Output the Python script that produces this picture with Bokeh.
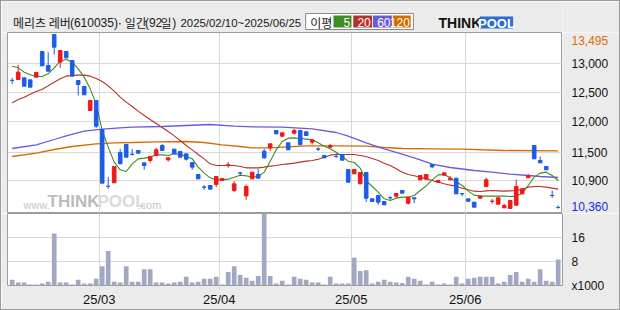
import pandas as pd
from bokeh.plotting import figure
from bokeh.layouts import column, row
from bokeh.models import ColumnDataSource, Range1d, FixedTicker, Grid, Label, Div
from bokeh.core.properties import value
from bokeh.embed import file_html
from bokeh.resources import INLINE

# ---------------- data ----------------
title_parts = ["메리츠 레버", "(610035)", "·", "일간", "(92", "일", ")", "2025/02/10~2025/06/25"]
kr_holidays = ["2025-03-03", "2025-05-01", "2025-05-05", "2025-05-06", "2025-06-03", "2025-06-06"]
dates = pd.bdate_range("2025-02-10", "2025-06-25", freq="C", holidays=kr_holidays)

opens = [12670, 12685, 12715, 12679, 12727, 13189, 12937, 13495, 12997, 13189,
         13027, 12667, 12559, 12127, 12307, 11785, 10765, 10825, 11371, 11515,
         11340, 11407, 11185, 11227, 11317, 11497, 11239, 11431, 11389, 11347,
         11191, 10975, 10750, 10777, 10795, 10867, 11147, 10687, 11004, 10591,
         10897, 10975, 11395, 11455, 11767, 11665, 11545, 11719, 11767, 11743,
         11557, 11434, 11317, 11467, 11302, 11335, 11065, 10987, 10807, 11011,
         10537, 10597, 10489, 10558, 10585, 10687, 10459, 10555, 10879, 10891,
         11155, 10837, 10963, 10879, 10909, 10630, 10537, 10477, 10549, 10759,
         10493, 10441, 10375, 10365, 10423, 10627, 10915, 11497, 11227, 11119,
         10600, 10383]
highs = [12715, 12949, 12715, 12679, 12811, 13189, 13177, 13495, 13207, 13189,
         13027, 12667, 12559, 12307, 12307, 11785, 10927, 11119, 11437, 11515,
         11437, 11407, 11185, 11299, 11455, 11527, 11275, 11431, 11389, 11347,
         11191, 10975, 10783, 10777, 10939, 10903, 11197, 10855, 11023, 10795,
         11017, 11077, 11437, 11527, 11767, 11725, 11545, 11797, 11767, 11743,
         11599, 11467, 11317, 11527, 11359, 11335, 11065, 11065, 11011, 11011,
         10537, 10597, 10489, 10585, 10633, 10687, 10567, 10555, 10957, 10975,
         11155, 10867, 11005, 10945, 10909, 10639, 10537, 10477, 10597, 10921,
         10537, 10555, 10453, 10507, 10885, 10717, 10987, 11497, 11299, 11119,
         10687, 10420]
lows = [12607, 12685, 12565, 12547, 12727, 12931, 12835, 13135, 12895, 13075,
        12745, 12397, 12409, 12127, 11815, 10819, 10717, 10825, 11167, 11287,
        11317, 11359, 11059, 11185, 11317, 11407, 11209, 11347, 11287, 11227,
        11059, 10897, 10699, 10711, 10747, 10867, 11095, 10657, 10945, 10519,
        10897, 10909, 11257, 11395, 11707, 11647, 11419, 11695, 11509, 11677,
        11515, 11395, 11275, 11455, 11275, 11233, 10819, 10987, 10807, 10477,
        10489, 10429, 10429, 10519, 10555, 10639, 10435, 10459, 10879, 10891,
        11089, 10837, 10963, 10879, 10627, 10585, 10477, 10387, 10537, 10747,
        10447, 10441, 10375, 10360, 10423, 10627, 10915, 11257, 11185, 11059,
        10555, 10360]
closes = [12665, 12817, 12565, 12547, 12811, 12931, 12835, 13267, 13207, 13075,
          12745, 12595, 12409, 12307, 11845, 10819, 10759, 11119, 11167, 11287,
          11335, 11359, 11137, 11299, 11419, 11407, 11275, 11347, 11287, 11251,
          11107, 10897, 10747, 10711, 10939, 10903, 11149, 10807, 11001, 10759,
          11017, 10909, 11275, 11527, 11707, 11725, 11419, 11767, 11509, 11677,
          11599, 11431, 11275, 11497, 11299, 11233, 10837, 11065, 11011, 10549,
          10489, 10477, 10429, 10555, 10633, 10639, 10567, 10537, 10957, 10975,
          11113, 10867, 11005, 10909, 10627, 10627, 10495, 10387, 10585, 10879,
          10495, 10555, 10417, 10507, 10759, 10717, 10951, 11257, 11185, 11059,
          10597, 10380]
volumes = [1900, 960, 960, 320, 320, 640, 1280, 17300, 960, 960,
           320, 1900, 640, 640, 2240, 6400, 11500, 1280, 960, 6400,
           1280, 1280, 5440, 5440, 960, 960, 640, 960, 1280, 2880,
           960, 1280, 2240, 2240, 2880, 320, 4480, 6400, 3520, 2560,
           1600, 3200, 25600, 3200, 640, 1600, 320, 2880, 2240, 1920,
           960, 960, 320, 2880, 640, 640, 640, 9280, 4800, 5120,
           640, 1280, 1920, 1280, 960, 800, 2880, 2240, 1600, 320,
           1280, 320, 640, 320, 2880, 640, 2240, 2560, 2880, 2880,
           2880, 640, 1280, 3520, 4480, 1280, 2240, 1280, 5440, 1600,
           1280, 8640]
ma5 = [12925, 12895, 12817, 12769, 12739, 12739, 12787, 12895, 13015, 13051,
       12997, 12877, 12727, 12517, 12247, 11767, 11467, 11197, 11059, 11029,
       11167, 11257, 11269, 11287, 11329, 11329, 11317, 11347, 11341, 11299,
       11257, 11107, 10999, 10915, 10879, 10879, 10891, 10927, 10963, 10951,
       10927, 10939, 11017, 11215, 11419, 11569, 11629, 11635, 11623, 11611,
       11599, 11545, 11485, 11437, 11377, 11299, 11215, 11191, 11089, 10867,
       10759, 10657, 10537, 10507, 10549, 10567, 10567, 10597, 10687, 10771,
       10879, 10969, 10975, 10915, 10843, 10777, 10675, 10603, 10585, 10585,
       10585, 10585, 10585, 10579, 10585, 10639, 10777, 10927, 10999, 11017,
       10957, 10867]
ma20 = [12265, 12325, 12367, 12421, 12469, 12511, 12571, 12637, 12697, 12745,
        12757, 12763, 12763, 12745, 12703, 12649, 12571, 12475, 12367, 12277,
        12199, 12115, 12037, 11965, 11893, 11821, 11749, 11671, 11587, 11497,
        11419, 11335, 11257, 11167, 11137, 11137, 11137, 11137, 11119, 11095,
        11095, 11095, 11107, 11125, 11137, 11155, 11167, 11179, 11197, 11215,
        11227, 11251, 11287, 11323, 11335, 11335, 11335, 11335, 11317, 11299,
        11263, 11227, 11179, 11137, 11077, 11017, 10975, 10951, 10927, 10897,
        10867, 10837, 10807, 10783, 10765, 10729, 10699, 10675, 10669, 10681,
        10687, 10681, 10675, 10681, 10687, 10711, 10747, 10759, 10759, 10747,
        10729, 10711]
ma60_idx = [0, 4, 7, 9, 12, 15, 18, 20, 25, 29, 33, 37, 40, 45, 50, 54, 56, 59,
            62, 65, 68, 70, 73, 77, 80, 83, 86, 88, 91]
ma60_val = [11443, 11509, 11605, 11671, 11755, 11791, 11815, 11827, 11839, 11857,
            11875, 11845, 11833, 11827, 11797, 11731, 11665, 11545, 11437, 11341,
            11239, 11161, 11101, 11047, 11017, 10981, 10957, 10939, 10921]
ma120_idx = [0, 4, 7, 10, 14, 17, 20, 24, 29, 32, 35, 38, 40, 43, 46, 49, 54, 59,
             62, 65, 70, 75, 82, 91]
ma120_val = [11299, 11359, 11425, 11479, 11527, 11545, 11551, 11563, 11569, 11551,
             11509, 11479, 11455, 11455, 11473, 11491, 11491, 11485, 11461, 11443,
             11437, 11431, 11407, 11401]

price_tick_values = [12967, 12445, 11929, 11377, 10861]
price_tick_labels = ["13,000", "12,500", "12,000", "11,500", "10,900"]
vol_tick_values = [0, 8000, 16000]
vol_tick_labels = ["x1000", "8", "16"]
max_label, min_label = "13,495", "10,360"
max_price, min_price = 13495, 10360
ma_names = ["5", "20", "60", "120"]

# ---------------- styles ----------------
RED, BLUE = "#ee1a1a", "#1d5de3"
C5, C20, C60, C120 = "#3d8d1f", "#b83028", "#6a5ae0", "#d86a00"
BG = "#ebebeb"
GRID = "#d8d8d8"
FRAME = "#9c9c9c"
EDGE = "#9a9a9a"
LAT = value("Liberation Sans")
CJK = value("Noto Sans CJK KR")

n = len(closes)
xs = list(range(n))
colors = [RED if c >= o else BLUE for o, c in zip(opens, closes)]
src = ColumnDataSource(dict(
    x=xs, high=highs, low=lows,
    top=[max(o, c) for o, c in zip(opens, closes)],
    bot=[min(o, c) for o, c in zip(opens, closes)],
    color=colors, vol=volumes, ma5=ma5, ma20=ma20))

month_ticks, month_labels = [], []
for i in range(1, len(dates)):
    if dates[i].month != dates[i - 1].month:
        month_ticks.append(i - 0.5)
        month_labels.append(dates[i].strftime("%y/%m"))

xr = Range1d(-0.783, n - 0.283)
yr = Range1d(10273, 13531)


def bare(fig):
    fig.grid.visible = False
    fig.outline_line_color = None
    fig.background_fill_color = BG
    fig.border_fill_color = BG


# ---------------- header ----------------
hdr = figure(width=618, height=31, x_range=Range1d(1, 619), y_range=Range1d(32, 1),
             toolbar_location=None, output_backend="svg", min_border=0, title=None,
             x_axis_location=None, y_axis_location=None)
bare(hdr)
part_x = [7, 70.5, 122.5, 131.5, 154, 171.5, 184.5, 328]
part_align = ["left"] * 7 + ["right"]
part_size = ["12px"] * 7 + ["11.4px"]
part_font = ["Noto Sans CJK KR", "Liberation Sans", "Noto Sans CJK KR", "Noto Sans CJK KR",
             "Liberation Sans", "Noto Sans CJK KR", "Liberation Sans", "Liberation Sans"]
for t, xx, f, al, sz in zip(title_parts, part_x, part_font, part_align, part_size):
    hdr.text(x=[xx], y=[22], text=[t], text_font=value(f), text_font_size=sz,
             text_align=al, text_baseline="middle", text_color="#1a1a1a")
hdr.quad(left=[333], right=[453], top=[13], bottom=[29], fill_color="white", line_color="#8a8a8a")
hdr.text(x=[338], y=[21.5], text=["이평"], text_font=CJK, text_font_size="12px",
         text_baseline="middle", text_color="#1a1a1a")
hdr.quad(left=[364, 386, 408, 430], right=[384, 407, 429, 450], top=[15] * 4, bottom=[27] * 4,
         fill_color=[C5, C20, C60, C120], line_color=None)
hdr.text(x=[382.5, 405.5, 427.5, 449], y=[21.5] * 4, text=ma_names, text_font=LAT,
         text_font_size="12px", text_align="right", text_baseline="middle", text_color="white")
hdr.text(x=[481], y=[22], text=["THINK"], text_font=LAT, text_font_size="14px",
         text_font_style="bold", text_baseline="middle", text_color="#111111")
hdr.quad(left=[527], right=[564], top=[16], bottom=[28], fill_color="#2c6cd4", line_color=None)
hdr.text(x=[545.5], y=[22.5], text=["POOL"], text_font=LAT, text_font_size="13px",
         text_font_style="bold", text_align="center", text_baseline="middle", text_color="white")

# ---------------- price pane ----------------
p = figure(width=561, height=181, x_range=xr, y_range=yr,
           toolbar_location=None, output_backend="svg", title=None,
           min_border_left=6, min_border_right=0, min_border_top=0, min_border_bottom=0,
           x_axis_location=None, y_axis_location=None)
p.background_fill_color = "white"
p.border_fill_color = BG
p.outline_line_color = FRAME
p.grid.visible = False
p.add_layout(Grid(dimension=0, ticker=FixedTicker(ticks=month_ticks), grid_line_color=GRID))
p.add_layout(Grid(dimension=1, ticker=FixedTicker(ticks=price_tick_values), grid_line_color=GRID))

for txt, xx, sz, col, style in [("www.", 16, "11px", "#c4c4c4", "normal"),
                                ("THINK", 40, "17px", "#bcbcbc", "bold"),
                                ("POOL", 90, "17px", "#dadada", "bold"),
                                (".com", 130, "11px", "#c4c4c4", "normal")]:
    p.add_layout(Label(x=xx, y=3, x_units="screen", y_units="screen", text=txt,
                       text_font="Liberation Sans", text_font_size=sz, text_color=col,
                       text_font_style=style, text_baseline="bottom"))

p.line(ma120_idx, ma120_val, line_color=C120, line_width=1.3)
p.line(ma60_idx, ma60_val, line_color=C60, line_width=1.3)
p.line("x", "ma20", source=src, line_color=C20, line_width=1.1)
p.line("x", "ma5", source=src, line_color=C5, line_width=1.1)
p.segment(x0="x", y0="high", x1="x", y1="low", source=src, line_color="color", line_width=1)
p.vbar(x="x", width=0.6, top="top", bottom="bot", source=src,
       fill_color="color", line_color="color", line_width=1)

# right-hand price scale (shares the price range)
pl = figure(width=57, height=181, x_range=Range1d(0, 57), y_range=yr,
            toolbar_location=None, output_backend="svg", min_border=0, title=None,
            x_axis_location=None, y_axis_location=None)
bare(pl)
pl.text(x=[9] * len(price_tick_values), y=price_tick_values, text=price_tick_labels,
        text_font=LAT, text_font_size="12px", text_baseline="middle", text_color="#111111")
pl.text(x=[9], y=[max_price], text=[max_label], y_offset=6, text_font=LAT,
        text_font_size="12px", text_baseline="middle", text_color="#dc6e00")
pl.text(x=[9], y=[min_price], text=[min_label], y_offset=-2.5, text_font=LAT,
        text_font_size="12px", text_baseline="middle", text_color="#1030e0")

# ---------------- volume pane ----------------
v = figure(width=618, height=96, x_range=xr, y_range=Range1d(0, 24000),
           toolbar_location=None, output_backend="svg", title=None,
           min_border_left=6, min_border_right=57, min_border_top=0, min_border_bottom=21,
           x_axis_location="below", y_axis_location="right")
v.background_fill_color = "white"
v.border_fill_color = BG
v.outline_line_color = FRAME
v.vbar(x="x", width=0.78, top="vol", bottom=0, source=src, fill_color="#a0a8c2", line_color=None)
xa = v.xaxis[0]
xa.ticker = FixedTicker(ticks=month_ticks)
xa.major_label_overrides = dict(zip(month_ticks, month_labels))
xa.axis_line_color = None
xa.major_tick_out = 5
xa.major_tick_in = 0
xa.major_tick_line_color = GRID
xa.minor_tick_line_color = None
xa.major_label_standoff = 1
xa.major_label_text_font = "Liberation Sans"
xa.major_label_text_font_size = "13px"
xa.major_label_text_color = "#111111"
v.xgrid.grid_line_color = GRID
v.ygrid.grid_line_color = GRID
va = v.yaxis[0]
va.ticker = FixedTicker(ticks=vol_tick_values)
va.major_label_overrides = dict(zip(vol_tick_values, vol_tick_labels))
va.axis_line_color = None
va.major_tick_out = 0
va.major_tick_in = 0
va.minor_tick_line_color = None
va.major_label_standoff = 9
va.major_label_text_font = "Liberation Sans"
va.major_label_text_font_size = "12px"
va.major_label_text_color = "#111111"


def edge(w, h):
    return Div(width=w, height=h, margin=0, styles={"background-color": EDGE})


inner = column(hdr, row(p, pl, spacing=0), v, spacing=0)
layout = column(edge(620, 1), row(edge(1, 308), inner, edge(1, 308), spacing=0),
                edge(620, 1), spacing=0)
open("out.html", "w").write(file_html(layout, INLINE))
